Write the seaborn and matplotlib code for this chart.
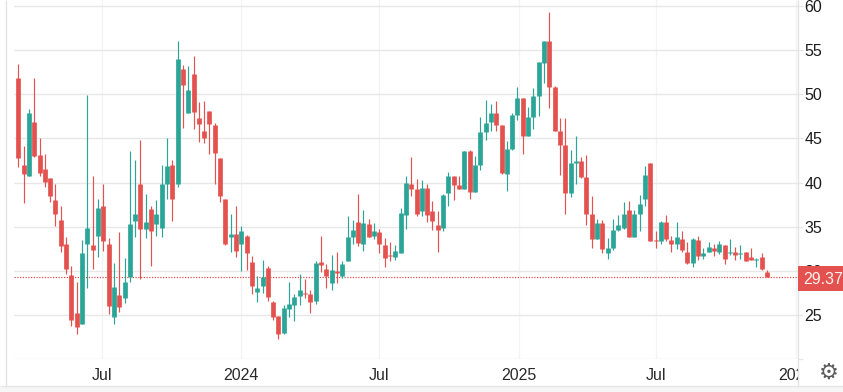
import numpy as np
import pandas as pd
import seaborn as sns
import matplotlib
matplotlib.use("Agg")
import matplotlib.pyplot as plt
import matplotlib.dates as mdates
from matplotlib.lines import Line2D
from matplotlib.patches import Rectangle
from matplotlib.transforms import Bbox

highs = [53.4,44.2,48.3,51.9,45.0,43.3,40.5,39.8,37.4,33.8,30.6,28.7,33.5,49.9,40.8,38.1,39.8,33.7,30.9,34.4,
         31.5,43.6,42.6,44.8,38.7,37.4,38.0,42.0,45.0,42.6,56.0,53.3,53.2,54.3,49.1,49.3,48.1,46.7,42.8,38.1,
         36.5,37.3,35.1,34.1,31.7,29.4,31.2,30.6,26.6,24.9,26.2,28.7,27.4,29.7,29.1,27.8,31.1,34.0,30.8,31.8,
         32.1,31.1,36.2,35.8,38.7,36.9,35.9,35.4,34.8,33.7,33.3,32.9,37.1,40.7,42.9,40.4,40.3,39.9,37.9,36.8,
         38.7,41.2,40.8,40.7,43.6,43.7,43.0,47.4,49.4,48.9,49.2,46.5,44.7,47.9,50.8,49.6,48.6,50.7,53.7,56.0,
         59.3,50.9,47.3,47.3,43.7,45.3,42.9,43.1,38.5,35.9,35.8,33.7,35.9,36.3,37.8,37.9,36.9,38.6,41.9,42.2,
         34.5,35.7,36.3,34.0,35.6,34.5,33.3,33.7,34.0,32.6,33.3,33.1,33.4,32.9,33.6,32.7,32.9,32.2,32.6,31.5,
         32.0,30.1]
opens = [51.9,42.0,40.8,46.9,43.1,41.5,40.5,38.0,35.8,33.1,29.5,25.2,24.0,33.0,32.9,34.0,37.4,33.0,24.8,27.3,
         26.9,29.3,35.7,39.9,34.8,37.0,35.3,34.9,39.9,42.0,39.9,52.9,47.9,52.3,47.3,45.9,48.1,46.5,42.8,38.1,
         33.9,34.2,33.0,34.0,31.0,27.6,28.3,30.3,26.5,24.9,23.0,25.7,26.1,27.2,27.5,27.4,26.6,31.0,30.2,28.6,
         30.0,29.4,31.1,33.8,35.5,33.1,35.3,34.0,34.4,32.9,31.8,31.6,32.0,36.3,39.8,39.3,36.8,39.4,36.8,35.2,
         34.9,38.8,40.7,39.7,39.3,43.6,38.9,42.0,45.7,46.9,47.9,46.5,41.0,43.8,47.7,49.6,45.3,47.4,49.8,53.6,
         56.0,50.8,45.9,44.3,38.8,42.2,42.5,40.6,36.5,33.6,35.4,32.0,32.6,34.6,34.9,36.9,33.8,36.4,38.1,42.2,
         33.5,33.4,35.6,33.5,33.0,33.6,32.2,30.9,33.5,31.7,32.1,32.6,32.1,32.9,32.0,32.1,31.9,32.1,31.6,31.2,
         31.6,29.9]
closes = [42.8,41.0,47.9,43.0,41.1,40.1,38.5,36.5,32.8,30.2,24.5,23.7,32.0,34.9,32.4,37.1,33.4,26.0,28.2,25.9,
          28.8,35.3,36.4,34.7,35.6,34.5,36.4,39.8,41.9,38.2,54.0,51.0,50.5,48.0,46.6,45.0,46.6,43.4,38.5,33.1,
          34.2,32.3,34.5,32.0,28.3,28.1,29.3,27.1,24.8,22.9,25.8,26.3,27.0,27.9,27.4,26.5,30.9,30.7,29.4,30.1,
          29.8,30.8,33.9,34.6,33.2,35.4,33.9,34.5,33.0,31.5,31.7,32.3,36.6,40.0,39.3,36.5,39.4,36.3,35.7,34.6,
          38.6,40.7,39.7,39.3,43.6,38.9,42.0,45.7,46.8,47.9,46.5,41.1,43.8,47.7,49.6,45.3,47.4,49.8,53.7,56.0,
          50.8,45.9,44.3,38.8,42.2,42.5,40.6,36.5,33.6,35.4,32.5,32.6,34.6,35.2,36.5,33.8,36.5,37.6,40.9,33.4,
          33.4,35.5,33.6,33.0,33.9,32.4,30.9,33.6,31.7,32.0,32.7,32.3,33.1,31.4,32.1,31.8,32.0,31.1,31.2,31.3,
          30.2,29.37]
lows = [41.8,37.7,40.8,42.9,40.7,39.5,37.8,35.1,32.2,29.7,23.8,22.9,24.0,28.1,30.2,31.6,32.3,25.1,24.0,25.4,
        26.4,28.7,33.8,29.1,33.7,30.6,34.0,33.8,38.2,35.7,39.5,46.2,47.9,46.1,44.6,44.5,43.2,39.8,37.8,32.9,
        32.2,31.6,30.0,30.1,27.4,26.5,27.5,26.6,24.5,22.3,22.9,24.8,24.3,26.2,26.9,25.2,26.3,29.9,28.1,27.9,
        28.6,29.2,31.1,33.1,32.8,32.3,33.9,33.6,32.0,30.4,31.1,31.2,32.0,34.8,38.5,36.2,36.2,35.6,34.6,32.2,
        34.5,37.4,38.0,39.3,39.3,38.2,38.9,41.4,44.8,45.8,45.9,41.0,39.0,43.7,47.1,43.3,45.3,46.1,47.6,51.3,
        48.4,45.9,40.9,36.4,38.4,39.9,40.5,35.2,32.6,33.6,32.0,31.4,32.4,34.5,34.8,33.8,33.8,34.5,37.4,33.4,
        32.6,33.0,33.4,32.2,32.5,32.2,30.8,30.4,31.2,31.4,32.1,31.7,31.9,30.8,31.8,31.2,31.4,31.1,31.2,30.4,
        30.1,29.3]
y_ticks = [20, 25, 30, 35, 40, 45, 50, 55, 60]
y_tick_labels = ["", "25", "30", "35", "40", "45", "50", "55", "60"]
x_tick_dates = ["2023-07-01", "2024-01-01", "2024-07-01", "2025-01-01", "2025-07-01", "2026-01-01"]
x_tick_labels = ["Jul", "2024", "Jul", "2025", "Jul", "2026"]
last_price = 29.37

RED, GREEN = "#e4524f", "#2aa597"
W, H = 843, 392

sns.set_theme(style="white")
plt.rcParams["font.family"] = ["Liberation Sans", "DejaVu Sans"]

fig = plt.figure(figsize=(W / 100, H / 100), dpi=100, facecolor="white")
AX_L, AX_R, AX_T, AX_B = 14.0, 798.0, 0.0, 359.3
ax = fig.add_axes([AX_L / W, 1 - AX_B / H, (AX_R - AX_L) / W, (AX_B - AX_T) / H])

dates = pd.date_range("2023-03-13", periods=len(highs), freq="7D")
xs = mdates.date2num(dates)
direction = ["up" if c >= o else "down" for o, c in zip(opens, closes)]
palette = {"up": GREEN, "down": RED}

frame = pd.DataFrame({"x": xs, "candle": range(len(xs)), "dir": direction,
                      "high": highs, "low": lows, "open": opens, "close": closes})
wicks = frame.melt(id_vars=["x", "candle", "dir"], value_vars=["high", "low"], value_name="price")
bodies = frame.melt(id_vars=["x", "candle", "dir"], value_vars=["open", "close"], value_name="price")

px = 7 / 5.31  # days per pixel

ax.set_axisbelow(True)
ax.yaxis.tick_right()
ax.set_yticks(y_ticks)
ax.set_yticklabels(y_tick_labels)
ax.set_xticks(mdates.date2num(pd.to_datetime(x_tick_dates)))
ax.set_xticklabels(x_tick_labels)
ax.grid(axis="y", color="#e7e7e8", lw=1.0)
ax.grid(axis="x", color="#f1f3f5", lw=0.9)
ax.axhline(last_price, color="#e0504d", lw=0.9, ls=(0, (1, 1.2)), zorder=1.5)

sns.lineplot(data=wicks, x="x", y="price", units="candle", estimator=None, hue="dir", palette=palette,
             lw=0.85, legend=False, ax=ax, solid_capstyle="butt", zorder=2)
sns.lineplot(data=bodies, x="x", y="price", units="candle", estimator=None, hue="dir", palette=palette,
             lw=3.4, legend=False, ax=ax, solid_capstyle="butt", zorder=3)

ax.set_xlim(xs[0] + (AX_L - 18.3) * px, xs[0] + (AX_R - 18.3) * px)
ax.set_ylim(20, 60 + 6 / 8.83)
ax.set_xlabel("")
ax.set_ylabel("")
for s in ax.spines.values():
    s.set_visible(False)
ax.tick_params(axis="y", length=3.6, width=0.9, color="#e7e7e8", pad=1.0, labelsize=11.5, labelcolor="#1c1c1c")
ax.tick_params(axis="x", length=0, pad=6.5, labelsize=11.5, labelcolor="#2a2a2a")

clip = Bbox([[0, 0], [AX_R, H]])
for lbl in ax.get_xticklabels():
    lbl.set_clip_box(clip)
    lbl.set_clip_on(True)


def fig_line(x0, y0, x1, y1, color, lw=1.0):
    fig.add_artist(Line2D([x0 / W, x1 / W], [1 - y0 / H, 1 - y1 / H], color=color, lw=lw,
                          transform=fig.transFigure, solid_capstyle="butt"))


fig.add_artist(Rectangle((0, 0), 1, 1 - 387 / H, transform=fig.transFigure, color="#f6f6f6", lw=0))
fig_line(0, 386, W, 386, "#e6e6e6", 1.0)
fig_line(5.5, 0, 5.5, 386, "#e3e3e3", 1.0)
fig_line(798, 0, 798, 386, "#e1e4ea", 1.0)

fig.add_artist(Rectangle((798 / W, 1 - 291 / H), 45 / W, 25 / H, transform=fig.transFigure,
                         color=RED, lw=0, zorder=4))
fig.text(823.5 / W, 1 - 279 / H, f"{last_price:.2f}", color="#fdf1f0", fontsize=11.5, ha="center", va="center", zorder=5)
fig.text(828.5 / W, 1 - 372.5 / H, "\u2699", color="#5a5a5a", fontsize=16, family="DejaVu Sans",
         ha="center", va="center")

fig.savefig("out.png", dpi=100, facecolor="white")
